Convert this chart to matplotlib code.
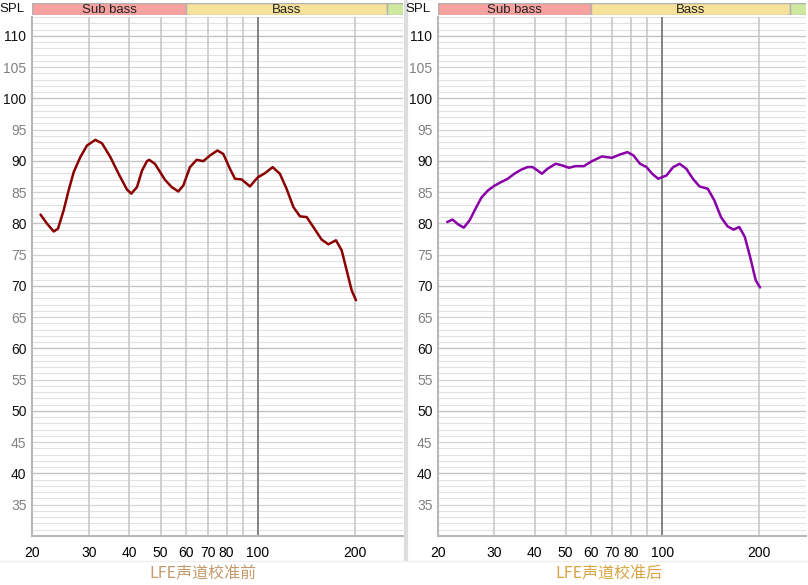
import matplotlib
matplotlib.use("Agg")
import matplotlib.pyplot as plt
from matplotlib.ticker import FixedLocator, NullLocator

plt.rcParams['font.family'] = ['Liberation Sans', 'Noto Sans CJK SC', 'DejaVu Sans']

# frequency response before calibration (Hz, dB)
freq_before = [21.25, 22.26, 23.34, 24.07, 25.06, 25.97, 26.92, 28.22, 29.59, 31.41,
               32.93, 34.95, 37.08, 39.34, 40.58, 42.25, 43.8, 45.37, 46.1, 48.04,
               51.56, 54.1, 56.7, 58.76, 61.63, 64.63, 67.76, 71.05, 74.9, 78.13,
               81.93, 84.9, 89.05, 94.5, 97.9, 100.2, 105.2, 111.0, 116.9, 122.6,
               128.7, 134.9, 141.5, 148.4, 157.4, 165.1, 174.3, 181.5, 188.1, 194.9, 201.0]
spl_before = [81.4, 79.95, 78.7, 79.15, 82.1, 85.3, 88.2, 90.6, 92.45, 93.35,
              92.8, 90.6, 87.9, 85.4, 84.75, 85.8, 88.45, 89.95, 90.16, 89.5,
              86.97, 85.8, 85.1, 86.06, 89.0, 90.16, 89.95, 90.85, 91.65, 91.1,
              88.72, 87.13, 87.02, 85.9, 86.86, 87.4, 88.03, 88.99, 87.93, 85.53,
              82.61, 81.12, 81.0, 79.4, 77.4, 76.65, 77.29, 75.7, 72.5, 69.3, 67.7]

# after calibration
freq_after = [21.37, 22.2, 23.1, 24.07, 25.1, 26.35, 27.3, 28.64, 30.0, 31.47,
              33.0, 34.6, 36.3, 38.05, 39.43, 40.87, 42.17, 43.9, 46.57, 48.84,
              51.2, 53.7, 57.0, 60.45, 64.9, 69.7, 73.96, 77.97, 81.4, 85.3,
              89.4, 93.1, 97.2, 103.2, 108.2, 113.4, 119.0, 124.7, 130.8, 138.8,
              145.5, 152.6, 160.0, 167.0, 174.0, 181.1, 188.1, 195.8, 202.0]
spl_after = [80.22, 80.6, 79.85, 79.31, 80.49, 82.61, 84.1, 85.27, 86.02, 86.6,
             87.13, 87.93, 88.57, 89.0, 89.0, 88.46, 87.93, 88.73, 89.53, 89.26,
             88.89, 89.15, 89.15, 89.95, 90.7, 90.48, 91.02, 91.39, 90.86, 89.53,
             89.0, 87.93, 87.13, 87.66, 88.99, 89.52, 88.72, 87.13, 85.9, 85.53,
             83.67, 81.0, 79.52, 79.0, 79.42, 77.82, 74.63, 70.9, 69.74]

titles = ['LFE声道校准前', 'LFE声道校准后']
title_colors = ['#c49a6c', '#d9a441']
line_colors = ['#8b0000', '#8a00a8']

bands = [('Sub bass', 20, 60, '#f7a1a1'), ('Bass', 60, 250, '#f6e29a'), ('', 250, 400, '#cfe8a0')]
xticks = [20, 30, 40, 50, 60, 70, 80, 100, 200]
vlines = [30, 40, 50, 60, 70, 80, 90, 200]

W, H = 808, 585
fig = plt.figure(figsize=(W / 100, H / 100), dpi=100)

panels = [(32, 403), (438, 806)]
data = [(freq_before, spl_before), (freq_after, spl_after)]

for i, ((x0, x1), (fx, fy)) in enumerate(zip(panels, data)):
    ax = fig.add_axes([x0 / W, (H - 536) / H, (x1 - x0) / W, (536 - 17) / H])
    ax.set_xscale('log')
    ax.set_xlim(20, 281)
    ax.set_ylim(30, 113)

    for v in range(30, 114):
        if v % 10 == 0:
            c, lw = '#c4c4c4', 1.0
        elif v % 5 == 0:
            c, lw = '#d4d4d4', 0.9
        else:
            c, lw = '#e2e2e2', 0.8
        ax.axhline(v, color=c, lw=lw, zorder=0)
    for f in vlines:
        ax.axvline(f, color='#c8c8c8', lw=1.2, zorder=1)
    ax.axvline(100, color='#7a7a7a', lw=1.3, zorder=1)

    ax.plot(fx, fy, color=line_colors[i], lw=1.8, zorder=3,
            solid_joinstyle='round', solid_capstyle='round')

    ax.xaxis.set_major_locator(FixedLocator(xticks))
    ax.xaxis.set_minor_locator(NullLocator())
    ax.set_xticklabels([str(t) for t in xticks], fontsize=10)
    yt = list(range(35, 111, 5))
    ax.yaxis.set_major_locator(FixedLocator(yt))
    ax.set_yticklabels([str(t) for t in yt], fontsize=10)
    for lab, t in zip(ax.get_yticklabels(), yt):
        lab.set_color('#111111' if t % 10 == 0 else '#808080')
    ax.tick_params(length=0, pad=4)
    ax.tick_params(axis='x', pad=7)

    for s in ['top', 'right']:
        ax.spines[s].set_visible(False)
    for s in ['left', 'bottom']:
        ax.spines[s].set_color('#b8b8b8')
        ax.spines[s].set_linewidth(1.5)

    # frequency band strip
    bx = fig.add_axes([x0 / W, (H - 15) / H, (x1 - x0) / W, 12 / H])
    bx.set_xscale('log')
    bx.set_xlim(20, 281)
    bx.set_ylim(0, 1)
    for name, a, b, col in bands:
        bx.axvspan(a, b, color=col, ec='#b0b0b0', lw=1)
        if name:
            bx.text((a * b) ** 0.5, 0.45, name, ha='center', va='center', fontsize=9.5, color='#222222')
    bx.set_xticks([])
    bx.set_yticks([])
    bx.xaxis.set_minor_locator(NullLocator())
    for s in bx.spines.values():
        s.set_visible(False)

    fig.text((x0 - 20) / W, 1 - 9 / H, 'SPL', ha='center', va='center', fontsize=9.5, color='#111111')
    fig.text((x0 + 171) / W, 1 - 574 / H, titles[i], ha='center', va='center', fontsize=11.5,
             color=title_colors[i], family=['Noto Sans CJK SC', 'DejaVu Sans'])

# separator between the two panels
fig.add_artist(plt.Line2D([406 / W, 406 / W], [1 - 560 / H, 1], color='#dddddd', lw=3))
fig.add_artist(plt.Line2D([0, 1], [1 - 561 / H, 1 - 561 / H], color='#eeeeee', lw=1))

fig.savefig('out.png', dpi=100)
